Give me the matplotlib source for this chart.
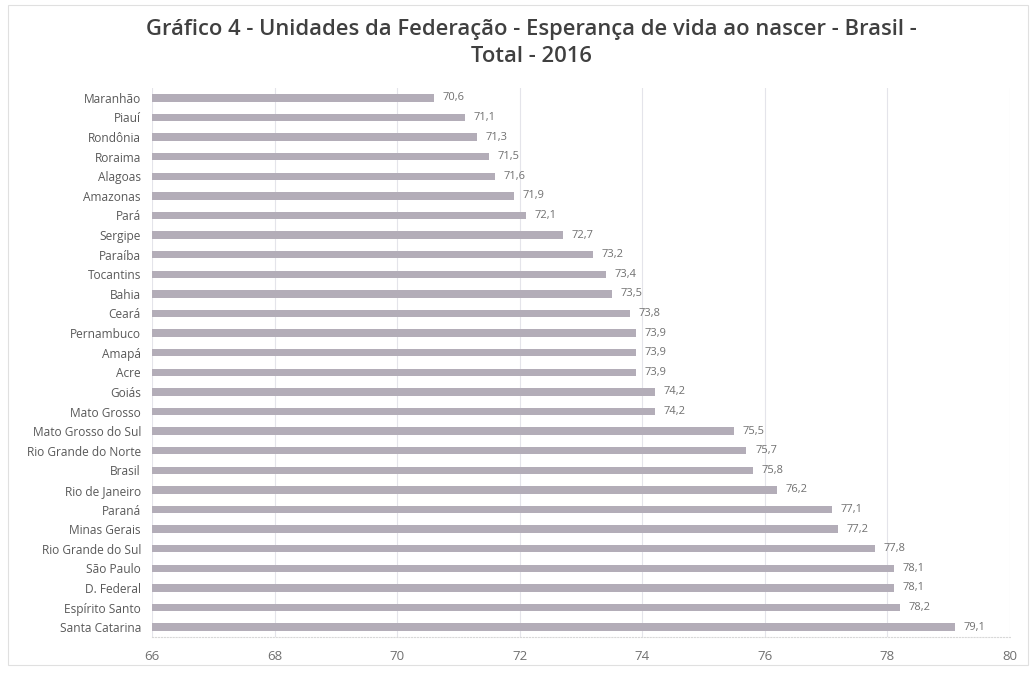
import matplotlib
matplotlib.use("Agg")
import matplotlib.pyplot as plt
from matplotlib.patches import Rectangle

categories = ["Maranhão", "Piauí", "Rondônia", "Roraima", "Alagoas", "Amazonas", "Pará",
              "Sergipe", "Paraíba", "Tocantins", "Bahia", "Ceará", "Pernambuco", "Amapá",
              "Acre", "Goiás", "Mato Grosso", "Mato Grosso do Sul", "Rio Grande do Norte",
              "Brasil", "Rio de Janeiro", "Paraná", "Minas Gerais", "Rio Grande do Sul",
              "São Paulo", "D. Federal", "Espírito Santo", "Santa Catarina"]
values = [70.6, 71.1, 71.3, 71.5, 71.6, 71.9, 72.1, 72.7, 73.2, 73.4, 73.5, 73.8, 73.9, 73.9,
          73.9, 74.2, 74.2, 75.5, 75.7, 75.8, 76.2, 77.1, 77.2, 77.8, 78.1, 78.1, 78.2, 79.1]
xticks = [66, 68, 70, 72, 74, 76, 78, 80]

plt.rcParams['font.family'] = ['Open Sans', 'DejaVu Sans']

fig = plt.figure(figsize=(10.34, 6.73), dpi=100)
ax = fig.add_axes([152/1034, 1 - 637/673, (1010-152)/1034, (637-88)/673])

n = len(categories)
ypos = list(range(n))
ax.barh(ypos, [v - 66 for v in values], left=66, height=0.38, color="#b3adb8",
        edgecolor="none", zorder=3)
for y, v in zip(ypos, values):
    ax.text(v + 0.14, y, f"{v:.1f}".replace(".", ","), va="center", ha="left",
            fontsize=8, color="#707070", zorder=4)

ax.set_xlim(66, 80)
ax.set_ylim(n - 0.5, -0.5)
ax.set_yticks(ypos)
ax.set_yticklabels(categories, fontsize=8.6, color="#595959")
ax.set_xticks(xticks)
ax.set_xticklabels([str(t) for t in xticks], fontsize=9.5, color="#707070")
ax.tick_params(axis="both", length=0)
ax.tick_params(axis="y", pad=8)
ax.tick_params(axis="x", pad=9)
ax.grid(axis="x", color="#e4e4ea", linewidth=0.8, zorder=0)
for s in ["top", "right", "left"]:
    ax.spines[s].set_visible(False)
ax.spines["bottom"].set_color("#d8d8d8")
ax.spines["bottom"].set_linestyle(":")

fig.text(0.514, 1 - 30/673, "Gráfico 4 - Unidades da Federação - Esperança de vida ao nascer - Brasil -",
         ha="center", va="center", fontsize=15.8, fontweight="semibold", color="#404040")
fig.text(0.514, 1 - 57/673, "Total - 2016",
         ha="center", va="center", fontsize=15.8, fontweight="semibold", color="#404040")

fig.patches.append(Rectangle((8/1034, 8/673), 1020/1034, 660/673, transform=fig.transFigure,
                             fill=False, edgecolor="#e0e0e0", linewidth=0.8))

fig.savefig("out.png", dpi=100, facecolor="white")
